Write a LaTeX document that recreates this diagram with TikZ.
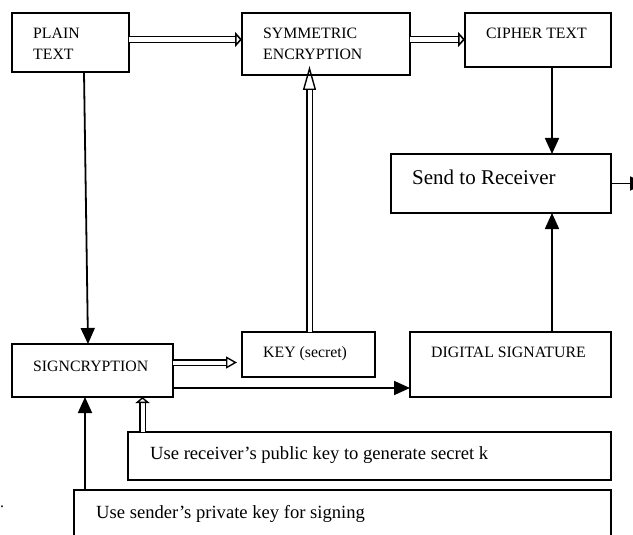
\documentclass[tikz,border=0pt]{standalone}
\usepackage{fontspec}
\setmainfont{Liberation Serif}
\usetikzlibrary{arrows.meta}

\tikzset{
  box/.style={draw, line width=1.8pt, rectangle, inner sep=0pt, outer sep=0pt, anchor=north west},
  capslbl/.style={font=\fontsize{15.8}{21}\selectfont, inner sep=0pt, anchor=base west},
  biglbl/.style={font=\fontsize{21}{26}\selectfont, inner sep=0pt, anchor=base west},
  notelbl/.style={font=\fontsize{18.6}{23}\selectfont, inner sep=0pt, anchor=base west},
  arr/.style={line width=1.8pt, -{Triangle[length=16pt,width=14pt]}},
  hollow/.style={line width=1.6pt, double, double distance=4.6pt},
  thinhollow/.style={line width=1.4pt, double, double distance=4pt}
}

\begin{document}
\begin{tikzpicture}[x=1pt,y=-1pt]
\useasboundingbox (0,0) rectangle (633,535);
\clip (0,0) rectangle (633,535);
\fill[white] (0,0) rectangle (633,535);

% boxes
\node[box, minimum width=117pt, minimum height=59pt] (plain)  at (12,13)  {};
\node[box, minimum width=168pt, minimum height=62pt] (sym)    at (242,13) {};
\node[box, minimum width=146pt, minimum height=54pt] (cipher) at (465,13) {};
\node[box, minimum width=220pt, minimum height=59pt] (send)   at (391,154) {};
\node[box, minimum width=161pt, minimum height=53pt] (sign)   at (12,344) {};
\node[box, minimum width=133pt, minimum height=45pt] (key)    at (242,332) {};
\node[box, minimum width=201pt, minimum height=65pt] (ds)     at (410,332) {};
\node[box, minimum width=483pt, minimum height=48pt] (recv)   at (128,432) {};
\node[box, minimum width=537pt, minimum height=60pt] (sender) at (74,490) {};

% labels
\node[capslbl] (plainA)  at (33,39)  {PLAIN};
\node[capslbl] (plainB)  at (33,60)  {TEXT};
\node[capslbl] (symA)    at (263,39) {SYMMETRIC};
\node[capslbl] (symB)    at (263,60) {ENCRYPTION};
\node[capslbl] (cipherT) at (486,39) {CIPHER TEXT};
\node[biglbl] (sendT)    at (412,185) {Send to Receiver};
\node[capslbl] (signT)   at (33,371) {SIGNCRYPTION};
\node[capslbl] (keyT)    at (263,357) {KEY (secret)};
\node[capslbl] (dsT)     at (431,357) {DIGITAL SIGNATURE};
\node[notelbl] (recvT)   at (150,459) {Use receiver’s public key to generate secret k};
\node[notelbl] (sendrT)  at (96,518) {Use sender’s private key for signing};
\node[capslbl] (dot)     at (0,507) {.};

\coordinate (out) at (646,183.5);

% solid connectors
\draw[arr] ([xshift=72pt]plain.south west) -- ([xshift=76pt]sign.north west);
\draw[arr] ([xshift=87pt]cipher.south west) -- ([xshift=161pt]send.north west);
\draw[arr] ([xshift=142pt]ds.north west) -- ([xshift=161pt]send.south west);
\draw[arr] (send.east) -- (out);
\draw[arr] ([yshift=9pt]sign.south east) -- ([yshift=9pt]ds.south west);
\draw[arr] ([xshift=11pt]sender.north west) -- ([xshift=73pt]sign.south west);

% hollow connectors
\draw[hollow, -{Triangle[open,length=7pt,width=15pt]}]
  ([yshift=-26.5pt]plain.north east) -- ([yshift=-26.5pt]sym.north west);
\draw[hollow, -{Triangle[open,length=7pt,width=15pt]}]
  ([yshift=-26.5pt]sym.north east) -- ([yshift=-26.5pt]cipher.north west);
\draw[thinhollow, -{Triangle[open,length=24pt,width=13pt]}]
  ([xshift=67.5pt]key.north west) -- ([xshift=67.5pt,yshift=9pt]sym.south west);
\draw[thinhollow, -{Triangle[open,length=11pt,width=12pt]}]
  ([yshift=-18.5pt]sign.north east) -- ([xshift=-5pt,yshift=-30.5pt]key.north west);
\draw[thinhollow, -{Triangle[open,length=6pt,width=14pt]}]
  ([xshift=14.5pt]recv.north west) -- ([xshift=130.5pt]sign.south west);
\end{tikzpicture}
\end{document}
